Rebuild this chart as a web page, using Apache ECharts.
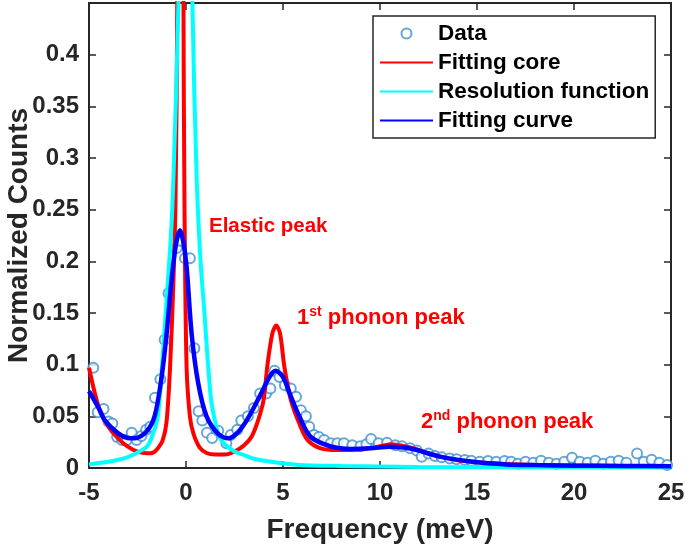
<!DOCTYPE html>
<html>
<head>
<meta charset="utf-8">
<script src="https://cdn.jsdelivr.net/npm/echarts@6/dist/echarts.min.js"></script>
<style>
  html, body { margin: 0; padding: 0; background: #fff; }
  #main { width: 685px; height: 546px; }
</style>
</head>
<body>
<div id="main"></div>
<script>
const chart = echarts.init(document.getElementById('main'));
const FONT = '"Liberation Sans", Arial, Helvetica, sans-serif';
const AXIS_COLOR = '#262626';

// measured points (meV, normalized counts)
const dataPoints = [
  [-4.78,0.097],[-4.55,0.054],[-4.25,0.057],[-4.0,0.045],[-3.8,0.043],[-3.55,0.030],
  [-3.3,0.027],[-3.05,0.027],[-2.8,0.034],[-2.55,0.027],[-2.3,0.031],[-2.05,0.037],
  [-1.84,0.040],[-1.6,0.068],[-1.32,0.086],[-1.1,0.124],[-0.9,0.169],[-0.48,0.213],
  [-0.3,0.220],[-0.05,0.203],[0.2,0.203],[0.43,0.116],[0.65,0.055],[0.84,0.046],
  [1.08,0.034],[1.35,0.029],[1.66,0.036],[2.08,0.024],[2.31,0.032],[2.64,0.037],
  [2.85,0.046],[3.19,0.050],[3.5,0.058],[3.82,0.072],[4.13,0.072],[4.35,0.077],
  [4.56,0.094],[4.82,0.088],[5.1,0.080],[5.4,0.077],[5.67,0.069],[5.92,0.056],
  [6.18,0.050],[6.35,0.040],[6.6,0.032],[6.85,0.030],[7.12,0.027],[7.46,0.024],
  [7.8,0.024],[8.14,0.024],[8.57,0.022],[8.99,0.021],[9.3,0.023],[9.54,0.028],
  [9.93,0.024],[10.36,0.0245],[10.79,0.022],[11.13,0.021],[11.55,0.019],[11.9,0.017],
  [12.15,0.011],[12.5,0.014],[12.83,0.0116],[13.18,0.0103],[13.6,0.0093],[13.95,0.0084],
  [14.37,0.0077],[14.7,0.0071],[15.14,0.006],[15.57,0.0068],[15.99,0.006],[16.42,0.0068],
  [16.76,0.006],[17.1,0.004],[17.5,0.006],[17.9,0.005],[18.3,0.007],[18.7,0.005],
  [19.1,0.004],[19.5,0.006],[19.9,0.010],[20.3,0.006],[20.7,0.005],[21.1,0.007],
  [21.5,0.004],[21.9,0.006],[22.3,0.007],[22.7,0.005],[23.25,0.014],[23.6,0.006],
  [24.0,0.008],[24.4,0.005],[24.8,0.003]
];

// fitting core (red)
const corePoints = [
  [-5,0.097],[-4.5,0.059],[-4,0.040],[-3.5,0.0287],[-3,0.0206],[-2.5,0.0158],
  [-2,0.0142],[-1.75,0.0145],[-1.5,0.018],[-1.2,0.027],[-1.0,0.045],[-0.82,0.098],
  [-0.65,0.18],[-0.54,0.26],[-0.45,0.45],[-0.3,1.5],[-0.13,0.45],[-0.08,0.26],
  [0.03,0.098],[0.2,0.05],[0.38,0.0335],[0.7,0.02],[1.06,0.0145],[1.5,0.013],
  [2.0,0.013],[2.5,0.016],[3.0,0.022],[3.4,0.031],[3.75,0.048],[4.0,0.066],
  [4.2,0.1],[4.45,0.13],[4.65,0.138],[4.85,0.13],[5.07,0.098],[5.4,0.066],
  [5.84,0.043],[6.27,0.027],[6.95,0.019],[7.8,0.0174],[9.0,0.018],[10.0,0.021],
  [10.6,0.023],[11.2,0.0213],[11.9,0.018],[12.5,0.014],[13.1,0.011],[14,0.0075],
  [15,0.0055],[16.5,0.0038],[18,0.003],[20,0.0025],[22.5,0.002],[25,0.0018]
];

// resolution function (cyan)
const resPoints = [
  [-5,0.0035],[-4,0.006],[-3.5,0.008],[-3,0.0105],[-2.5,0.015],[-2,0.021],
  [-1.7,0.033],[-1.45,0.05],[-1.25,0.095],[-1.0,0.163],[-0.77,0.227],[-0.65,0.28],
  [-0.39,0.45],[-0.03,0.9],[0.33,0.45],[0.55,0.28],[0.75,0.2],[0.95,0.15],
  [1.12,0.104],[1.3,0.065],[1.5,0.045],[1.7,0.031],[2.0,0.023],[2.5,0.016],
  [3.0,0.0125],[3.5,0.009],[4.4,0.006],[5.8,0.003],[8,0.002],[12,0.001],[25,0.0005]
];

// fitting curve (blue)
const fitPoints = [
  [-5,0.0745],[-4.5,0.058],[-4.18,0.046],[-3.5,0.0335],[-3,0.029],[-2.64,0.0287],
  [-2.05,0.035],[-1.62,0.05],[-1.28,0.085],[-1.0,0.13],[-0.73,0.185],[-0.5,0.218],
  [-0.31,0.230],[-0.15,0.22],[0.03,0.195],[0.29,0.13],[0.63,0.082],[1.06,0.05],
  [1.66,0.033],[2.17,0.0287],[2.7,0.035],[3.19,0.048],[3.87,0.072],[4.3,0.088],
  [4.62,0.094],[5.0,0.088],[5.41,0.069],[5.84,0.05],[6.43,0.030],[7.46,0.021],
  [8.5,0.0185],[9.5,0.019],[10.5,0.0206],[11.2,0.0198],[11.9,0.0174],[13.09,0.011],
  [14.8,0.006],[16.5,0.0035],[18,0.0028],[20,0.0022],[22.5,0.002],[25,0.0018]
];

const seriesNames = ['Data', 'Fitting core', 'Resolution function', 'Fitting curve'];

const tickStyle = { show: true, inside: true, length: 7, lineStyle: { color: AXIS_COLOR, width: 1.5 } };
const lineStyle = { show: true, onZero: false, lineStyle: { color: AXIS_COLOR, width: 2 } };
const labelStyle = { color: AXIS_COLOR, fontSize: 24, fontWeight: 'bold', fontFamily: FONT };
const titleStyle = { color: AXIS_COLOR, fontSize: 28, fontWeight: 'bold', fontFamily: FONT };

const option = {
  backgroundColor: '#fff',
  animation: false,
  grid: { left: 89, right: 14, top: 3, bottom: 78, containLabel: false, outerBoundsMode: 'none' },
  xAxis: [
    {
      type: 'value', min: -5, max: 25, interval: 5, position: 'bottom',
      axisLine: lineStyle, axisTick: tickStyle, splitLine: { show: false },
      axisLabel: Object.assign({ margin: 13 }, labelStyle),
      name: 'Frequency (meV)', nameLocation: 'middle', nameGap: 48, nameMoveOverlap: false,
      nameTextStyle: titleStyle
    },
    {
      type: 'value', min: -5, max: 25, interval: 5, position: 'top',
      axisLine: lineStyle, axisTick: tickStyle, splitLine: { show: false },
      axisLabel: { show: false }
    }
  ],
  yAxis: [
    {
      type: 'value', min: 0, max: 0.45, interval: 0.05, position: 'left',
      axisLine: lineStyle, axisTick: tickStyle, splitLine: { show: false },
      axisLabel: Object.assign({
        margin: 10,
        formatter: v => (v > 0.44 ? '' : String(+v.toFixed(2)))
      }, labelStyle),
      name: 'Normalized Counts', nameLocation: 'middle', nameGap: 56, nameMoveOverlap: false,
      nameTextStyle: titleStyle
    },
    {
      type: 'value', min: 0, max: 0.45, interval: 0.05, position: 'right',
      axisLine: lineStyle, axisTick: tickStyle, splitLine: { show: false },
      axisLabel: { show: false }
    }
  ],
  legend: {
    orient: 'vertical', left: 373, top: 16,
    backgroundColor: '#fff', borderColor: AXIS_COLOR, borderWidth: 1.5, borderRadius: 0,
    padding: [6, 6, 6, 6], itemWidth: 53, itemHeight: 10, itemGap: 6,
    textStyle: { color: '#000', fontSize: 22.5, fontWeight: 'bold', fontFamily: FONT, lineHeight: 23 },
    data: [
      { name: seriesNames[0] },
      { name: seriesNames[1], itemStyle: { opacity: 0 } },
      { name: seriesNames[2], itemStyle: { opacity: 0 } },
      { name: seriesNames[3], itemStyle: { opacity: 0 } }
    ]
  },
  series: [
    {
      name: seriesNames[0], type: 'scatter', data: dataPoints,
      symbol: 'emptyCircle', symbolSize: 10,
      itemStyle: { color: '#4090d0', borderColor: '#4090d0', borderWidth: 1 },
      z: 2
    },
    {
      name: seriesNames[1], type: 'line', data: corePoints, symbol: 'none',
      smooth: 0.3, clip: true,
      lineStyle: { color: '#ff0000', width: 4 }, itemStyle: { color: '#ff0000' }, z: 3
    },
    {
      name: seriesNames[2], type: 'line', data: resPoints, symbol: 'none',
      smooth: 0.3, clip: true,
      lineStyle: { color: '#00ffff', width: 4 }, itemStyle: { color: '#00ffff' }, z: 4
    },
    {
      name: seriesNames[3], type: 'line', data: fitPoints, symbol: 'none',
      smooth: 0.3, clip: true,
      lineStyle: { color: '#0000ff', width: 4.5 }, itemStyle: { color: '#0000ff' }, z: 5
    }
  ],
  graphic: [
    {
      type: 'text', left: 209, top: 216, z: 10,
      style: { text: 'Elastic peak', fill: '#ff0000', fontSize: 20.5, fontWeight: 'bold', fontFamily: FONT }
    },
    {
      type: 'text', left: 297, top: 305, z: 10,
      style: {
        text: '{n|1}{s|st}{n| phonon peak}', fill: '#ff0000', fontFamily: FONT,
        rich: {
          n: { fontSize: 22, fontWeight: 'bold', fill: '#ff0000', fontFamily: FONT, lineHeight: 26 },
          s: { fontSize: 14, fontWeight: 'bold', fill: '#ff0000', fontFamily: FONT, verticalAlign: 'top', lineHeight: 15 }
        }
      }
    },
    {
      type: 'text', left: 421, top: 409, z: 10,
      style: {
        text: '{n|2}{s|nd}{n| phonon peak}', fill: '#ff0000', fontFamily: FONT,
        rich: {
          n: { fontSize: 22, fontWeight: 'bold', fill: '#ff0000', fontFamily: FONT, lineHeight: 26 },
          s: { fontSize: 14, fontWeight: 'bold', fill: '#ff0000', fontFamily: FONT, verticalAlign: 'top', lineHeight: 15 }
        }
      }
    }
  ]
};

chart.setOption(option);
</script>
</body>
</html>
